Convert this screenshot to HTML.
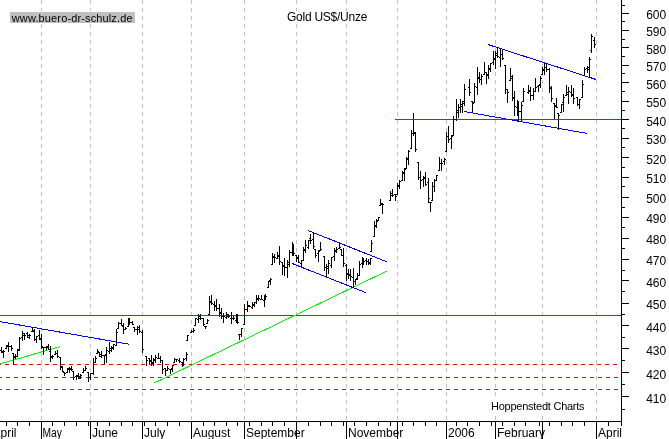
<!DOCTYPE html><html><head><meta charset="utf-8"><title>Gold US$/Unze</title>
<style>html,body{margin:0;padding:0;background:#fff;}body{width:669px;height:439px;overflow:hidden;position:relative;font-family:"Liberation Sans",sans-serif;}svg{position:absolute;left:0;top:0;display:block}text{font-family:"Liberation Sans",sans-serif;fill:#000}text{filter:grayscale(1)}</style></head><body>
<svg width="669" height="439" viewBox="0 0 669 439">
<rect x="0" y="0" width="669" height="439" fill="#fff"/>
<g stroke="#c0c0c0" stroke-width="1" stroke-dasharray="4 4" shape-rendering="crispEdges">
<line x1="41.5" y1="0" x2="41.5" y2="421"/>
<line x1="90.5" y1="0" x2="90.5" y2="421"/>
<line x1="142.5" y1="0" x2="142.5" y2="421"/>
<line x1="191.5" y1="0" x2="191.5" y2="421"/>
<line x1="244.5" y1="0" x2="244.5" y2="421"/>
<line x1="296.5" y1="0" x2="296.5" y2="421"/>
<line x1="346.5" y1="0" x2="346.5" y2="421"/>
<line x1="397.5" y1="0" x2="397.5" y2="421"/>
<line x1="446.5" y1="0" x2="446.5" y2="421"/>
<line x1="495.5" y1="0" x2="495.5" y2="421"/>
<line x1="542.5" y1="0" x2="542.5" y2="421"/>
<line x1="596.5" y1="0" x2="596.5" y2="421"/>
</g>
<g stroke="#ff0000" stroke-width="1" shape-rendering="crispEdges">
<line x1="-3" y1="364.5" x2="619" y2="364.5" stroke-dasharray="4 4"/>
<line x1="-2" y1="377.5" x2="619" y2="377.5" stroke-dasharray="4 4"/>
<line x1="-2" y1="389.5" x2="619" y2="389.5" stroke-dasharray="4 4"/>
<line x1="0" y1="315.5" x2="621" y2="315.5"/>
<line x1="395" y1="119.5" x2="621" y2="119.5"/>
</g>
<g stroke="#00ff00" stroke-width="1" shape-rendering="crispEdges">
<line x1="0" y1="364.0" x2="60" y2="346.6"/>
<line x1="153.5" y1="383.4" x2="386.7" y2="271.2"/>
</g>
<g stroke="#0000ff" stroke-width="1" shape-rendering="crispEdges">
<line x1="0" y1="321.6" x2="129.2" y2="344.2"/>
<line x1="308.3" y1="230.6" x2="386.7" y2="261.8"/>
<line x1="291.9" y1="263.4" x2="365.7" y2="292.6"/>
<line x1="487.9" y1="44.5" x2="596.1" y2="79.5"/>
<line x1="464.2" y1="111.5" x2="586.9" y2="133.4"/>
</g>
<g fill="#000" shape-rendering="crispEdges">
<rect x="1" y="347" width="1" height="6"/>
<rect x="0" y="350" width="1" height="1"/>
<rect x="2" y="351" width="1" height="1"/>
<rect x="3" y="350" width="1" height="8"/>
<rect x="2" y="352" width="1" height="1"/>
<rect x="4" y="351" width="1" height="1"/>
<rect x="6" y="345" width="1" height="4"/>
<rect x="5" y="348" width="1" height="1"/>
<rect x="7" y="345" width="1" height="1"/>
<rect x="8" y="342" width="1" height="10"/>
<rect x="7" y="346" width="1" height="1"/>
<rect x="9" y="346" width="1" height="1"/>
<rect x="11" y="345" width="1" height="6"/>
<rect x="10" y="346" width="1" height="1"/>
<rect x="12" y="348" width="1" height="1"/>
<rect x="13" y="353" width="1" height="12"/>
<rect x="12" y="353" width="1" height="1"/>
<rect x="14" y="356" width="1" height="1"/>
<rect x="15" y="354" width="1" height="5"/>
<rect x="14" y="357" width="1" height="1"/>
<rect x="16" y="356" width="1" height="1"/>
<rect x="17" y="349" width="1" height="8"/>
<rect x="16" y="356" width="1" height="1"/>
<rect x="18" y="349" width="1" height="1"/>
<rect x="19" y="337" width="1" height="14"/>
<rect x="18" y="350" width="1" height="1"/>
<rect x="20" y="338" width="1" height="1"/>
<rect x="22" y="331" width="1" height="10"/>
<rect x="21" y="337" width="1" height="1"/>
<rect x="23" y="335" width="1" height="1"/>
<rect x="24" y="333" width="1" height="7"/>
<rect x="23" y="333" width="1" height="1"/>
<rect x="25" y="335" width="1" height="1"/>
<rect x="27" y="332" width="1" height="6"/>
<rect x="26" y="333" width="1" height="1"/>
<rect x="28" y="337" width="1" height="1"/>
<rect x="29" y="334" width="1" height="5"/>
<rect x="28" y="335" width="1" height="1"/>
<rect x="30" y="335" width="1" height="1"/>
<rect x="32" y="328" width="1" height="4"/>
<rect x="31" y="331" width="1" height="1"/>
<rect x="33" y="331" width="1" height="1"/>
<rect x="34" y="329" width="1" height="12"/>
<rect x="33" y="330" width="1" height="1"/>
<rect x="35" y="339" width="1" height="1"/>
<rect x="36" y="336" width="1" height="7"/>
<rect x="35" y="339" width="1" height="1"/>
<rect x="37" y="336" width="1" height="1"/>
<rect x="39" y="330" width="1" height="10"/>
<rect x="38" y="335" width="1" height="1"/>
<rect x="40" y="338" width="1" height="1"/>
<rect x="41" y="334" width="1" height="15"/>
<rect x="40" y="339" width="1" height="1"/>
<rect x="42" y="346" width="1" height="1"/>
<rect x="43" y="347" width="1" height="8"/>
<rect x="42" y="347" width="1" height="1"/>
<rect x="44" y="347" width="1" height="1"/>
<rect x="46" y="346" width="1" height="4"/>
<rect x="45" y="347" width="1" height="1"/>
<rect x="47" y="346" width="1" height="1"/>
<rect x="48" y="344" width="1" height="6"/>
<rect x="47" y="347" width="1" height="1"/>
<rect x="49" y="349" width="1" height="1"/>
<rect x="50" y="346" width="1" height="16"/>
<rect x="49" y="351" width="1" height="1"/>
<rect x="51" y="356" width="1" height="1"/>
<rect x="52" y="355" width="1" height="4"/>
<rect x="51" y="357" width="1" height="1"/>
<rect x="53" y="356" width="1" height="1"/>
<rect x="55" y="351" width="1" height="4"/>
<rect x="54" y="354" width="1" height="1"/>
<rect x="56" y="353" width="1" height="1"/>
<rect x="57" y="350" width="1" height="8"/>
<rect x="56" y="353" width="1" height="1"/>
<rect x="58" y="356" width="1" height="1"/>
<rect x="60" y="357" width="1" height="13"/>
<rect x="59" y="357" width="1" height="1"/>
<rect x="61" y="366" width="1" height="1"/>
<rect x="62" y="366" width="1" height="6"/>
<rect x="61" y="367" width="1" height="1"/>
<rect x="63" y="371" width="1" height="1"/>
<rect x="64" y="372" width="1" height="4"/>
<rect x="63" y="372" width="1" height="1"/>
<rect x="65" y="373" width="1" height="1"/>
<rect x="67" y="368" width="1" height="5"/>
<rect x="66" y="372" width="1" height="1"/>
<rect x="68" y="369" width="1" height="1"/>
<rect x="69" y="367" width="1" height="6"/>
<rect x="68" y="368" width="1" height="1"/>
<rect x="70" y="369" width="1" height="1"/>
<rect x="71" y="366" width="1" height="5"/>
<rect x="70" y="368" width="1" height="1"/>
<rect x="72" y="369" width="1" height="1"/>
<rect x="73" y="371" width="1" height="9"/>
<rect x="72" y="371" width="1" height="1"/>
<rect x="74" y="377" width="1" height="1"/>
<rect x="76" y="375" width="1" height="5"/>
<rect x="75" y="376" width="1" height="1"/>
<rect x="77" y="375" width="1" height="1"/>
<rect x="78" y="373" width="1" height="6"/>
<rect x="77" y="376" width="1" height="1"/>
<rect x="79" y="376" width="1" height="1"/>
<rect x="80" y="374" width="1" height="5"/>
<rect x="79" y="378" width="1" height="1"/>
<rect x="81" y="375" width="1" height="1"/>
<rect x="83" y="368" width="1" height="5"/>
<rect x="82" y="372" width="1" height="1"/>
<rect x="84" y="370" width="1" height="1"/>
<rect x="85" y="366" width="1" height="5"/>
<rect x="84" y="370" width="1" height="1"/>
<rect x="86" y="368" width="1" height="1"/>
<rect x="88" y="372" width="1" height="10"/>
<rect x="87" y="372" width="1" height="1"/>
<rect x="89" y="377" width="1" height="1"/>
<rect x="90" y="373" width="1" height="7"/>
<rect x="89" y="377" width="1" height="1"/>
<rect x="91" y="373" width="1" height="1"/>
<rect x="93" y="358" width="1" height="17"/>
<rect x="92" y="373" width="1" height="1"/>
<rect x="94" y="362" width="1" height="1"/>
<rect x="95" y="356" width="1" height="7"/>
<rect x="94" y="362" width="1" height="1"/>
<rect x="96" y="358" width="1" height="1"/>
<rect x="97" y="349" width="1" height="5"/>
<rect x="96" y="353" width="1" height="1"/>
<rect x="98" y="351" width="1" height="1"/>
<rect x="99" y="352" width="1" height="5"/>
<rect x="98" y="352" width="1" height="1"/>
<rect x="100" y="354" width="1" height="1"/>
<rect x="101" y="351" width="1" height="7"/>
<rect x="100" y="356" width="1" height="1"/>
<rect x="102" y="355" width="1" height="1"/>
<rect x="104" y="355" width="1" height="9"/>
<rect x="103" y="355" width="1" height="1"/>
<rect x="105" y="355" width="1" height="1"/>
<rect x="106" y="347" width="1" height="16"/>
<rect x="105" y="354" width="1" height="1"/>
<rect x="107" y="350" width="1" height="1"/>
<rect x="109" y="342" width="1" height="12"/>
<rect x="108" y="351" width="1" height="1"/>
<rect x="110" y="348" width="1" height="1"/>
<rect x="111" y="346" width="1" height="6"/>
<rect x="110" y="350" width="1" height="1"/>
<rect x="112" y="348" width="1" height="1"/>
<rect x="113" y="344" width="1" height="6"/>
<rect x="112" y="347" width="1" height="1"/>
<rect x="114" y="344" width="1" height="1"/>
<rect x="116" y="329" width="1" height="17"/>
<rect x="115" y="345" width="1" height="1"/>
<rect x="117" y="332" width="1" height="1"/>
<rect x="118" y="322" width="1" height="7"/>
<rect x="117" y="328" width="1" height="1"/>
<rect x="119" y="323" width="1" height="1"/>
<rect x="121" y="319" width="1" height="7"/>
<rect x="120" y="323" width="1" height="1"/>
<rect x="122" y="325" width="1" height="1"/>
<rect x="123" y="323" width="1" height="11"/>
<rect x="122" y="326" width="1" height="1"/>
<rect x="124" y="329" width="1" height="1"/>
<rect x="125" y="327" width="1" height="3"/>
<rect x="124" y="329" width="1" height="1"/>
<rect x="126" y="328" width="1" height="1"/>
<rect x="128" y="318" width="1" height="9"/>
<rect x="127" y="326" width="1" height="1"/>
<rect x="129" y="321" width="1" height="1"/>
<rect x="129" y="318" width="1" height="7"/>
<rect x="128" y="320" width="1" height="1"/>
<rect x="130" y="322" width="1" height="1"/>
<rect x="132" y="321" width="1" height="4"/>
<rect x="131" y="322" width="1" height="1"/>
<rect x="133" y="324" width="1" height="1"/>
<rect x="134" y="327" width="1" height="5"/>
<rect x="133" y="327" width="1" height="1"/>
<rect x="135" y="329" width="1" height="1"/>
<rect x="137" y="326" width="1" height="9"/>
<rect x="136" y="329" width="1" height="1"/>
<rect x="138" y="329" width="1" height="1"/>
<rect x="139" y="325" width="1" height="8"/>
<rect x="138" y="327" width="1" height="1"/>
<rect x="140" y="331" width="1" height="1"/>
<rect x="142" y="330" width="1" height="23"/>
<rect x="141" y="332" width="1" height="1"/>
<rect x="143" y="349" width="1" height="1"/>
<rect x="146" y="356" width="1" height="10"/>
<rect x="145" y="356" width="1" height="1"/>
<rect x="147" y="360" width="1" height="1"/>
<rect x="149" y="358" width="1" height="6"/>
<rect x="148" y="358" width="1" height="1"/>
<rect x="150" y="360" width="1" height="1"/>
<rect x="151" y="355" width="1" height="11"/>
<rect x="150" y="361" width="1" height="1"/>
<rect x="152" y="362" width="1" height="1"/>
<rect x="153" y="358" width="1" height="8"/>
<rect x="152" y="363" width="1" height="1"/>
<rect x="154" y="360" width="1" height="1"/>
<rect x="155" y="355" width="1" height="8"/>
<rect x="154" y="359" width="1" height="1"/>
<rect x="156" y="357" width="1" height="1"/>
<rect x="158" y="353" width="1" height="6"/>
<rect x="157" y="358" width="1" height="1"/>
<rect x="159" y="358" width="1" height="1"/>
<rect x="160" y="356" width="1" height="7"/>
<rect x="159" y="358" width="1" height="1"/>
<rect x="161" y="360" width="1" height="1"/>
<rect x="162" y="360" width="1" height="14"/>
<rect x="161" y="360" width="1" height="1"/>
<rect x="163" y="369" width="1" height="1"/>
<rect x="165" y="368" width="1" height="8"/>
<rect x="164" y="368" width="1" height="1"/>
<rect x="166" y="370" width="1" height="1"/>
<rect x="167" y="366" width="1" height="5"/>
<rect x="166" y="370" width="1" height="1"/>
<rect x="168" y="368" width="1" height="1"/>
<rect x="170" y="369" width="1" height="5"/>
<rect x="169" y="369" width="1" height="1"/>
<rect x="171" y="369" width="1" height="1"/>
<rect x="172" y="365" width="1" height="7"/>
<rect x="171" y="368" width="1" height="1"/>
<rect x="173" y="365" width="1" height="1"/>
<rect x="174" y="358" width="1" height="5"/>
<rect x="173" y="362" width="1" height="1"/>
<rect x="175" y="359" width="1" height="1"/>
<rect x="176" y="359" width="1" height="3"/>
<rect x="175" y="359" width="1" height="1"/>
<rect x="177" y="359" width="1" height="1"/>
<rect x="179" y="358" width="1" height="5"/>
<rect x="178" y="360" width="1" height="1"/>
<rect x="180" y="361" width="1" height="1"/>
<rect x="182" y="362" width="1" height="5"/>
<rect x="181" y="362" width="1" height="1"/>
<rect x="183" y="363" width="1" height="1"/>
<rect x="183" y="358" width="1" height="8"/>
<rect x="182" y="364" width="1" height="1"/>
<rect x="184" y="359" width="1" height="1"/>
<rect x="186" y="352" width="1" height="9"/>
<rect x="185" y="358" width="1" height="1"/>
<rect x="187" y="354" width="1" height="1"/>
<rect x="187" y="335" width="1" height="6"/>
<rect x="186" y="340" width="1" height="1"/>
<rect x="188" y="335" width="1" height="1"/>
<rect x="191" y="330" width="1" height="3"/>
<rect x="190" y="332" width="1" height="1"/>
<rect x="192" y="331" width="1" height="1"/>
<rect x="193" y="328" width="1" height="5"/>
<rect x="192" y="331" width="1" height="1"/>
<rect x="194" y="330" width="1" height="1"/>
<rect x="195" y="318" width="1" height="8"/>
<rect x="194" y="325" width="1" height="1"/>
<rect x="196" y="318" width="1" height="1"/>
<rect x="198" y="314" width="1" height="9"/>
<rect x="197" y="319" width="1" height="1"/>
<rect x="199" y="316" width="1" height="1"/>
<rect x="200" y="314" width="1" height="6"/>
<rect x="199" y="318" width="1" height="1"/>
<rect x="201" y="318" width="1" height="1"/>
<rect x="203" y="318" width="1" height="8"/>
<rect x="202" y="318" width="1" height="1"/>
<rect x="204" y="324" width="1" height="1"/>
<rect x="205" y="326" width="1" height="3"/>
<rect x="204" y="326" width="1" height="1"/>
<rect x="206" y="326" width="1" height="1"/>
<rect x="207" y="319" width="1" height="5"/>
<rect x="206" y="323" width="1" height="1"/>
<rect x="208" y="320" width="1" height="1"/>
<rect x="209" y="296" width="1" height="19"/>
<rect x="208" y="314" width="1" height="1"/>
<rect x="210" y="301" width="1" height="1"/>
<rect x="211" y="295" width="1" height="10"/>
<rect x="210" y="302" width="1" height="1"/>
<rect x="212" y="303" width="1" height="1"/>
<rect x="214" y="301" width="1" height="10"/>
<rect x="213" y="304" width="1" height="1"/>
<rect x="215" y="305" width="1" height="1"/>
<rect x="216" y="299" width="1" height="12"/>
<rect x="215" y="306" width="1" height="1"/>
<rect x="217" y="308" width="1" height="1"/>
<rect x="219" y="304" width="1" height="13"/>
<rect x="218" y="308" width="1" height="1"/>
<rect x="220" y="312" width="1" height="1"/>
<rect x="221" y="308" width="1" height="11"/>
<rect x="220" y="313" width="1" height="1"/>
<rect x="222" y="316" width="1" height="1"/>
<rect x="223" y="313" width="1" height="10"/>
<rect x="222" y="316" width="1" height="1"/>
<rect x="224" y="316" width="1" height="1"/>
<rect x="226" y="312" width="1" height="7"/>
<rect x="225" y="317" width="1" height="1"/>
<rect x="227" y="316" width="1" height="1"/>
<rect x="228" y="314" width="1" height="4"/>
<rect x="227" y="314" width="1" height="1"/>
<rect x="229" y="316" width="1" height="1"/>
<rect x="231" y="312" width="1" height="12"/>
<rect x="230" y="318" width="1" height="1"/>
<rect x="232" y="318" width="1" height="1"/>
<rect x="233" y="316" width="1" height="4"/>
<rect x="232" y="318" width="1" height="1"/>
<rect x="234" y="318" width="1" height="1"/>
<rect x="236" y="314" width="1" height="9"/>
<rect x="235" y="320" width="1" height="1"/>
<rect x="237" y="318" width="1" height="1"/>
<rect x="237" y="314" width="1" height="10"/>
<rect x="236" y="319" width="1" height="1"/>
<rect x="238" y="322" width="1" height="1"/>
<rect x="239" y="334" width="1" height="6"/>
<rect x="238" y="334" width="1" height="1"/>
<rect x="240" y="334" width="1" height="1"/>
<rect x="241" y="328" width="1" height="9"/>
<rect x="240" y="334" width="1" height="1"/>
<rect x="242" y="328" width="1" height="1"/>
<rect x="244" y="304" width="1" height="21"/>
<rect x="243" y="324" width="1" height="1"/>
<rect x="245" y="309" width="1" height="1"/>
<rect x="247" y="301" width="1" height="11"/>
<rect x="246" y="309" width="1" height="1"/>
<rect x="248" y="306" width="1" height="1"/>
<rect x="249" y="305" width="1" height="2"/>
<rect x="248" y="305" width="1" height="1"/>
<rect x="250" y="306" width="1" height="1"/>
<rect x="252" y="302" width="1" height="7"/>
<rect x="251" y="307" width="1" height="1"/>
<rect x="253" y="305" width="1" height="1"/>
<rect x="254" y="302" width="1" height="5"/>
<rect x="253" y="304" width="1" height="1"/>
<rect x="255" y="302" width="1" height="1"/>
<rect x="256" y="295" width="1" height="9"/>
<rect x="255" y="302" width="1" height="1"/>
<rect x="257" y="299" width="1" height="1"/>
<rect x="258" y="295" width="1" height="6"/>
<rect x="257" y="298" width="1" height="1"/>
<rect x="259" y="298" width="1" height="1"/>
<rect x="261" y="295" width="1" height="5"/>
<rect x="260" y="299" width="1" height="1"/>
<rect x="262" y="299" width="1" height="1"/>
<rect x="264" y="295" width="1" height="12"/>
<rect x="263" y="300" width="1" height="1"/>
<rect x="265" y="297" width="1" height="1"/>
<rect x="265" y="294" width="1" height="6"/>
<rect x="264" y="298" width="1" height="1"/>
<rect x="266" y="296" width="1" height="1"/>
<rect x="268" y="281" width="1" height="7"/>
<rect x="267" y="287" width="1" height="1"/>
<rect x="269" y="281" width="1" height="1"/>
<rect x="270" y="278" width="1" height="7"/>
<rect x="269" y="280" width="1" height="1"/>
<rect x="271" y="279" width="1" height="1"/>
<rect x="272" y="253" width="1" height="12"/>
<rect x="271" y="264" width="1" height="1"/>
<rect x="273" y="257" width="1" height="1"/>
<rect x="274" y="254" width="1" height="9"/>
<rect x="273" y="256" width="1" height="1"/>
<rect x="275" y="257" width="1" height="1"/>
<rect x="277" y="252" width="1" height="7"/>
<rect x="276" y="258" width="1" height="1"/>
<rect x="278" y="256" width="1" height="1"/>
<rect x="279" y="246" width="1" height="19"/>
<rect x="278" y="255" width="1" height="1"/>
<rect x="280" y="261" width="1" height="1"/>
<rect x="282" y="262" width="1" height="13"/>
<rect x="281" y="262" width="1" height="1"/>
<rect x="283" y="266" width="1" height="1"/>
<rect x="284" y="258" width="1" height="18"/>
<rect x="283" y="265" width="1" height="1"/>
<rect x="285" y="267" width="1" height="1"/>
<rect x="287" y="260" width="1" height="18"/>
<rect x="286" y="267" width="1" height="1"/>
<rect x="288" y="264" width="1" height="1"/>
<rect x="289" y="250" width="1" height="17"/>
<rect x="288" y="262" width="1" height="1"/>
<rect x="290" y="252" width="1" height="1"/>
<rect x="292" y="242" width="1" height="14"/>
<rect x="291" y="252" width="1" height="1"/>
<rect x="293" y="249" width="1" height="1"/>
<rect x="293" y="244" width="1" height="12"/>
<rect x="292" y="249" width="1" height="1"/>
<rect x="294" y="253" width="1" height="1"/>
<rect x="296" y="255" width="1" height="7"/>
<rect x="295" y="255" width="1" height="1"/>
<rect x="297" y="258" width="1" height="1"/>
<rect x="298" y="255" width="1" height="8"/>
<rect x="297" y="257" width="1" height="1"/>
<rect x="299" y="262" width="1" height="1"/>
<rect x="301" y="260" width="1" height="7"/>
<rect x="300" y="263" width="1" height="1"/>
<rect x="302" y="260" width="1" height="1"/>
<rect x="303" y="247" width="1" height="14"/>
<rect x="302" y="260" width="1" height="1"/>
<rect x="304" y="250" width="1" height="1"/>
<rect x="305" y="240" width="1" height="13"/>
<rect x="304" y="249" width="1" height="1"/>
<rect x="306" y="245" width="1" height="1"/>
<rect x="308" y="240" width="1" height="9"/>
<rect x="307" y="247" width="1" height="1"/>
<rect x="309" y="240" width="1" height="1"/>
<rect x="310" y="234" width="1" height="10"/>
<rect x="309" y="238" width="1" height="1"/>
<rect x="311" y="240" width="1" height="1"/>
<rect x="313" y="232" width="1" height="17"/>
<rect x="312" y="239" width="1" height="1"/>
<rect x="314" y="246" width="1" height="1"/>
<rect x="315" y="249" width="1" height="9"/>
<rect x="314" y="249" width="1" height="1"/>
<rect x="316" y="255" width="1" height="1"/>
<rect x="318" y="250" width="1" height="12"/>
<rect x="317" y="253" width="1" height="1"/>
<rect x="319" y="251" width="1" height="1"/>
<rect x="320" y="242" width="1" height="9"/>
<rect x="319" y="250" width="1" height="1"/>
<rect x="321" y="249" width="1" height="1"/>
<rect x="324" y="256" width="1" height="15"/>
<rect x="323" y="256" width="1" height="1"/>
<rect x="325" y="267" width="1" height="1"/>
<rect x="326" y="264" width="1" height="13"/>
<rect x="325" y="267" width="1" height="1"/>
<rect x="327" y="268" width="1" height="1"/>
<rect x="328" y="260" width="1" height="14"/>
<rect x="327" y="266" width="1" height="1"/>
<rect x="329" y="263" width="1" height="1"/>
<rect x="331" y="257" width="1" height="11"/>
<rect x="330" y="265" width="1" height="1"/>
<rect x="332" y="257" width="1" height="1"/>
<rect x="334" y="248" width="1" height="13"/>
<rect x="333" y="256" width="1" height="1"/>
<rect x="335" y="250" width="1" height="1"/>
<rect x="336" y="247" width="1" height="6"/>
<rect x="335" y="251" width="1" height="1"/>
<rect x="337" y="249" width="1" height="1"/>
<rect x="339" y="243" width="1" height="6"/>
<rect x="338" y="248" width="1" height="1"/>
<rect x="340" y="247" width="1" height="1"/>
<rect x="341" y="249" width="1" height="7"/>
<rect x="340" y="249" width="1" height="1"/>
<rect x="342" y="255" width="1" height="1"/>
<rect x="343" y="248" width="1" height="19"/>
<rect x="342" y="255" width="1" height="1"/>
<rect x="344" y="263" width="1" height="1"/>
<rect x="346" y="264" width="1" height="17"/>
<rect x="345" y="265" width="1" height="1"/>
<rect x="347" y="273" width="1" height="1"/>
<rect x="348" y="269" width="1" height="10"/>
<rect x="347" y="274" width="1" height="1"/>
<rect x="349" y="274" width="1" height="1"/>
<rect x="350" y="269" width="1" height="12"/>
<rect x="349" y="275" width="1" height="1"/>
<rect x="351" y="276" width="1" height="1"/>
<rect x="353" y="268" width="1" height="20"/>
<rect x="352" y="277" width="1" height="1"/>
<rect x="354" y="281" width="1" height="1"/>
<rect x="355" y="279" width="1" height="6"/>
<rect x="354" y="281" width="1" height="1"/>
<rect x="356" y="279" width="1" height="1"/>
<rect x="357" y="273" width="1" height="7"/>
<rect x="356" y="278" width="1" height="1"/>
<rect x="358" y="275" width="1" height="1"/>
<rect x="359" y="261" width="1" height="15"/>
<rect x="358" y="275" width="1" height="1"/>
<rect x="360" y="264" width="1" height="1"/>
<rect x="362" y="257" width="1" height="11"/>
<rect x="361" y="263" width="1" height="1"/>
<rect x="363" y="260" width="1" height="1"/>
<rect x="363" y="258" width="1" height="7"/>
<rect x="362" y="259" width="1" height="1"/>
<rect x="364" y="261" width="1" height="1"/>
<rect x="366" y="258" width="1" height="7"/>
<rect x="365" y="260" width="1" height="1"/>
<rect x="367" y="261" width="1" height="1"/>
<rect x="368" y="259" width="1" height="6"/>
<rect x="367" y="261" width="1" height="1"/>
<rect x="369" y="262" width="1" height="1"/>
<rect x="370" y="258" width="1" height="7"/>
<rect x="369" y="263" width="1" height="1"/>
<rect x="371" y="258" width="1" height="1"/>
<rect x="371" y="240" width="1" height="12"/>
<rect x="370" y="251" width="1" height="1"/>
<rect x="372" y="243" width="1" height="1"/>
<rect x="374" y="221" width="1" height="16"/>
<rect x="373" y="236" width="1" height="1"/>
<rect x="375" y="225" width="1" height="1"/>
<rect x="376" y="219" width="1" height="9"/>
<rect x="375" y="226" width="1" height="1"/>
<rect x="377" y="221" width="1" height="1"/>
<rect x="378" y="217" width="1" height="4"/>
<rect x="377" y="220" width="1" height="1"/>
<rect x="379" y="217" width="1" height="1"/>
<rect x="380" y="199" width="1" height="7"/>
<rect x="379" y="205" width="1" height="1"/>
<rect x="381" y="204" width="1" height="1"/>
<rect x="382" y="203" width="1" height="11"/>
<rect x="381" y="203" width="1" height="1"/>
<rect x="383" y="204" width="1" height="1"/>
<rect x="390" y="191" width="1" height="10"/>
<rect x="389" y="200" width="1" height="1"/>
<rect x="391" y="193" width="1" height="1"/>
<rect x="392" y="189" width="1" height="8"/>
<rect x="391" y="195" width="1" height="1"/>
<rect x="393" y="195" width="1" height="1"/>
<rect x="395" y="194" width="1" height="7"/>
<rect x="394" y="194" width="1" height="1"/>
<rect x="396" y="196" width="1" height="1"/>
<rect x="397" y="183" width="1" height="12"/>
<rect x="396" y="194" width="1" height="1"/>
<rect x="398" y="186" width="1" height="1"/>
<rect x="399" y="180" width="1" height="9"/>
<rect x="398" y="185" width="1" height="1"/>
<rect x="400" y="181" width="1" height="1"/>
<rect x="402" y="171" width="1" height="10"/>
<rect x="401" y="180" width="1" height="1"/>
<rect x="403" y="173" width="1" height="1"/>
<rect x="404" y="168" width="1" height="13"/>
<rect x="403" y="172" width="1" height="1"/>
<rect x="405" y="169" width="1" height="1"/>
<rect x="406" y="157" width="1" height="12"/>
<rect x="405" y="168" width="1" height="1"/>
<rect x="407" y="159" width="1" height="1"/>
<rect x="408" y="150" width="1" height="15"/>
<rect x="407" y="158" width="1" height="1"/>
<rect x="409" y="151" width="1" height="1"/>
<rect x="411" y="130" width="1" height="19"/>
<rect x="410" y="148" width="1" height="1"/>
<rect x="412" y="133" width="1" height="1"/>
<rect x="413" y="113" width="1" height="23"/>
<rect x="412" y="133" width="1" height="1"/>
<rect x="414" y="133" width="1" height="1"/>
<rect x="415" y="132" width="1" height="20"/>
<rect x="414" y="132" width="1" height="1"/>
<rect x="416" y="149" width="1" height="1"/>
<rect x="418" y="162" width="1" height="18"/>
<rect x="417" y="162" width="1" height="1"/>
<rect x="419" y="177" width="1" height="1"/>
<rect x="420" y="171" width="1" height="18"/>
<rect x="419" y="177" width="1" height="1"/>
<rect x="421" y="180" width="1" height="1"/>
<rect x="423" y="176" width="1" height="11"/>
<rect x="422" y="179" width="1" height="1"/>
<rect x="424" y="178" width="1" height="1"/>
<rect x="425" y="172" width="1" height="14"/>
<rect x="424" y="177" width="1" height="1"/>
<rect x="426" y="184" width="1" height="1"/>
<rect x="428" y="178" width="1" height="25"/>
<rect x="427" y="182" width="1" height="1"/>
<rect x="429" y="198" width="1" height="1"/>
<rect x="430" y="202" width="1" height="10"/>
<rect x="429" y="202" width="1" height="1"/>
<rect x="431" y="202" width="1" height="1"/>
<rect x="432" y="182" width="1" height="19"/>
<rect x="431" y="200" width="1" height="1"/>
<rect x="433" y="186" width="1" height="1"/>
<rect x="434" y="179" width="1" height="13"/>
<rect x="433" y="186" width="1" height="1"/>
<rect x="435" y="180" width="1" height="1"/>
<rect x="436" y="175" width="1" height="6"/>
<rect x="435" y="180" width="1" height="1"/>
<rect x="437" y="175" width="1" height="1"/>
<rect x="439" y="157" width="1" height="14"/>
<rect x="438" y="170" width="1" height="1"/>
<rect x="440" y="163" width="1" height="1"/>
<rect x="441" y="159" width="1" height="12"/>
<rect x="440" y="163" width="1" height="1"/>
<rect x="442" y="163" width="1" height="1"/>
<rect x="444" y="158" width="1" height="7"/>
<rect x="443" y="161" width="1" height="1"/>
<rect x="445" y="159" width="1" height="1"/>
<rect x="446" y="132" width="1" height="20"/>
<rect x="445" y="151" width="1" height="1"/>
<rect x="447" y="136" width="1" height="1"/>
<rect x="448" y="126" width="1" height="17"/>
<rect x="447" y="136" width="1" height="1"/>
<rect x="449" y="139" width="1" height="1"/>
<rect x="451" y="135" width="1" height="14"/>
<rect x="450" y="138" width="1" height="1"/>
<rect x="452" y="136" width="1" height="1"/>
<rect x="453" y="116" width="1" height="20"/>
<rect x="452" y="135" width="1" height="1"/>
<rect x="454" y="119" width="1" height="1"/>
<rect x="456" y="99" width="1" height="22"/>
<rect x="455" y="119" width="1" height="1"/>
<rect x="457" y="110" width="1" height="1"/>
<rect x="458" y="104" width="1" height="14"/>
<rect x="457" y="112" width="1" height="1"/>
<rect x="459" y="107" width="1" height="1"/>
<rect x="460" y="99" width="1" height="14"/>
<rect x="459" y="107" width="1" height="1"/>
<rect x="461" y="106" width="1" height="1"/>
<rect x="462" y="101" width="1" height="12"/>
<rect x="461" y="104" width="1" height="1"/>
<rect x="463" y="103" width="1" height="1"/>
<rect x="464" y="84" width="1" height="22"/>
<rect x="463" y="101" width="1" height="1"/>
<rect x="465" y="89" width="1" height="1"/>
<rect x="469" y="79" width="1" height="17"/>
<rect x="468" y="87" width="1" height="1"/>
<rect x="470" y="92" width="1" height="1"/>
<rect x="472" y="101" width="1" height="12"/>
<rect x="471" y="101" width="1" height="1"/>
<rect x="473" y="103" width="1" height="1"/>
<rect x="474" y="83" width="1" height="20"/>
<rect x="473" y="102" width="1" height="1"/>
<rect x="475" y="86" width="1" height="1"/>
<rect x="477" y="67" width="1" height="28"/>
<rect x="476" y="87" width="1" height="1"/>
<rect x="478" y="77" width="1" height="1"/>
<rect x="479" y="72" width="1" height="11"/>
<rect x="478" y="78" width="1" height="1"/>
<rect x="480" y="79" width="1" height="1"/>
<rect x="481" y="74" width="1" height="11"/>
<rect x="480" y="79" width="1" height="1"/>
<rect x="482" y="76" width="1" height="1"/>
<rect x="484" y="62" width="1" height="13"/>
<rect x="483" y="74" width="1" height="1"/>
<rect x="485" y="72" width="1" height="1"/>
<rect x="486" y="72" width="1" height="12"/>
<rect x="485" y="72" width="1" height="1"/>
<rect x="487" y="74" width="1" height="1"/>
<rect x="488" y="65" width="1" height="14"/>
<rect x="487" y="75" width="1" height="1"/>
<rect x="489" y="69" width="1" height="1"/>
<rect x="490" y="63" width="1" height="9"/>
<rect x="489" y="68" width="1" height="1"/>
<rect x="491" y="63" width="1" height="1"/>
<rect x="493" y="51" width="1" height="14"/>
<rect x="492" y="62" width="1" height="1"/>
<rect x="494" y="58" width="1" height="1"/>
<rect x="495" y="51" width="1" height="18"/>
<rect x="494" y="59" width="1" height="1"/>
<rect x="496" y="55" width="1" height="1"/>
<rect x="497" y="48" width="1" height="10"/>
<rect x="496" y="53" width="1" height="1"/>
<rect x="498" y="56" width="1" height="1"/>
<rect x="500" y="49" width="1" height="18"/>
<rect x="499" y="57" width="1" height="1"/>
<rect x="501" y="54" width="1" height="1"/>
<rect x="502" y="50" width="1" height="10"/>
<rect x="501" y="54" width="1" height="1"/>
<rect x="503" y="58" width="1" height="1"/>
<rect x="505" y="65" width="1" height="29"/>
<rect x="504" y="65" width="1" height="1"/>
<rect x="506" y="89" width="1" height="1"/>
<rect x="507" y="89" width="1" height="14"/>
<rect x="506" y="89" width="1" height="1"/>
<rect x="508" y="92" width="1" height="1"/>
<rect x="510" y="68" width="1" height="13"/>
<rect x="509" y="80" width="1" height="1"/>
<rect x="511" y="78" width="1" height="1"/>
<rect x="512" y="75" width="1" height="26"/>
<rect x="511" y="76" width="1" height="1"/>
<rect x="513" y="97" width="1" height="1"/>
<rect x="514" y="91" width="1" height="25"/>
<rect x="513" y="98" width="1" height="1"/>
<rect x="515" y="106" width="1" height="1"/>
<rect x="517" y="100" width="1" height="16"/>
<rect x="516" y="107" width="1" height="1"/>
<rect x="518" y="110" width="1" height="1"/>
<rect x="518" y="101" width="1" height="20"/>
<rect x="517" y="108" width="1" height="1"/>
<rect x="519" y="111" width="1" height="1"/>
<rect x="521" y="102" width="1" height="19"/>
<rect x="520" y="111" width="1" height="1"/>
<rect x="522" y="105" width="1" height="1"/>
<rect x="523" y="88" width="1" height="14"/>
<rect x="522" y="101" width="1" height="1"/>
<rect x="524" y="91" width="1" height="1"/>
<rect x="528" y="85" width="1" height="9"/>
<rect x="527" y="92" width="1" height="1"/>
<rect x="529" y="91" width="1" height="1"/>
<rect x="530" y="87" width="1" height="14"/>
<rect x="529" y="90" width="1" height="1"/>
<rect x="531" y="95" width="1" height="1"/>
<rect x="533" y="88" width="1" height="12"/>
<rect x="532" y="95" width="1" height="1"/>
<rect x="534" y="91" width="1" height="1"/>
<rect x="535" y="78" width="1" height="14"/>
<rect x="534" y="91" width="1" height="1"/>
<rect x="536" y="87" width="1" height="1"/>
<rect x="538" y="85" width="1" height="7"/>
<rect x="537" y="86" width="1" height="1"/>
<rect x="539" y="85" width="1" height="1"/>
<rect x="540" y="76" width="1" height="12"/>
<rect x="539" y="84" width="1" height="1"/>
<rect x="541" y="78" width="1" height="1"/>
<rect x="542" y="67" width="1" height="8"/>
<rect x="541" y="74" width="1" height="1"/>
<rect x="543" y="69" width="1" height="1"/>
<rect x="544" y="63" width="1" height="12"/>
<rect x="543" y="70" width="1" height="1"/>
<rect x="545" y="67" width="1" height="1"/>
<rect x="546" y="64" width="1" height="8"/>
<rect x="545" y="67" width="1" height="1"/>
<rect x="547" y="69" width="1" height="1"/>
<rect x="549" y="68" width="1" height="25"/>
<rect x="548" y="69" width="1" height="1"/>
<rect x="550" y="88" width="1" height="1"/>
<rect x="551" y="86" width="1" height="16"/>
<rect x="550" y="87" width="1" height="1"/>
<rect x="552" y="98" width="1" height="1"/>
<rect x="554" y="103" width="1" height="16"/>
<rect x="553" y="103" width="1" height="1"/>
<rect x="555" y="106" width="1" height="1"/>
<rect x="556" y="98" width="1" height="10"/>
<rect x="555" y="105" width="1" height="1"/>
<rect x="557" y="107" width="1" height="1"/>
<rect x="558" y="113" width="1" height="17"/>
<rect x="557" y="113" width="1" height="1"/>
<rect x="559" y="115" width="1" height="1"/>
<rect x="561" y="104" width="1" height="9"/>
<rect x="560" y="112" width="1" height="1"/>
<rect x="562" y="104" width="1" height="1"/>
<rect x="563" y="94" width="1" height="18"/>
<rect x="562" y="102" width="1" height="1"/>
<rect x="564" y="97" width="1" height="1"/>
<rect x="566" y="85" width="1" height="11"/>
<rect x="565" y="95" width="1" height="1"/>
<rect x="567" y="94" width="1" height="1"/>
<rect x="568" y="87" width="1" height="17"/>
<rect x="567" y="92" width="1" height="1"/>
<rect x="569" y="91" width="1" height="1"/>
<rect x="571" y="85" width="1" height="12"/>
<rect x="570" y="92" width="1" height="1"/>
<rect x="572" y="94" width="1" height="1"/>
<rect x="573" y="88" width="1" height="16"/>
<rect x="572" y="95" width="1" height="1"/>
<rect x="574" y="98" width="1" height="1"/>
<rect x="577" y="97" width="1" height="9"/>
<rect x="576" y="97" width="1" height="1"/>
<rect x="578" y="104" width="1" height="1"/>
<rect x="579" y="99" width="1" height="10"/>
<rect x="578" y="104" width="1" height="1"/>
<rect x="580" y="99" width="1" height="1"/>
<rect x="582" y="80" width="1" height="18"/>
<rect x="581" y="97" width="1" height="1"/>
<rect x="583" y="84" width="1" height="1"/>
<rect x="584" y="67" width="1" height="9"/>
<rect x="583" y="75" width="1" height="1"/>
<rect x="585" y="69" width="1" height="1"/>
<rect x="587" y="66" width="1" height="7"/>
<rect x="586" y="68" width="1" height="1"/>
<rect x="588" y="67" width="1" height="1"/>
<rect x="589" y="57" width="1" height="21"/>
<rect x="588" y="69" width="1" height="1"/>
<rect x="590" y="59" width="1" height="1"/>
<rect x="591" y="34" width="1" height="19"/>
<rect x="590" y="50" width="1" height="1"/>
<rect x="592" y="36" width="1" height="1"/>
<rect x="594" y="37" width="1" height="11"/>
<rect x="593" y="40" width="1" height="1"/>
<rect x="595" y="44" width="1" height="1"/>
</g>
<g fill="#000" shape-rendering="crispEdges">
<rect x="621" y="0" width="1" height="426"/>
<rect x="0" y="421" width="622" height="1"/>
<rect x="622" y="409" width="3" height="1"/>
<rect x="622" y="396" width="7" height="1"/>
<rect x="622" y="384" width="3" height="1"/>
<rect x="622" y="372" width="7" height="1"/>
<rect x="622" y="360" width="3" height="1"/>
<rect x="622" y="348" width="7" height="1"/>
<rect x="622" y="337" width="3" height="1"/>
<rect x="622" y="325" width="7" height="1"/>
<rect x="622" y="314" width="3" height="1"/>
<rect x="622" y="303" width="7" height="1"/>
<rect x="622" y="291" width="3" height="1"/>
<rect x="622" y="280" width="7" height="1"/>
<rect x="622" y="270" width="3" height="1"/>
<rect x="622" y="259" width="7" height="1"/>
<rect x="622" y="248" width="3" height="1"/>
<rect x="622" y="238" width="7" height="1"/>
<rect x="622" y="227" width="3" height="1"/>
<rect x="622" y="217" width="7" height="1"/>
<rect x="622" y="207" width="3" height="1"/>
<rect x="622" y="197" width="7" height="1"/>
<rect x="622" y="186" width="3" height="1"/>
<rect x="622" y="177" width="7" height="1"/>
<rect x="622" y="167" width="3" height="1"/>
<rect x="622" y="157" width="7" height="1"/>
<rect x="622" y="147" width="3" height="1"/>
<rect x="622" y="138" width="7" height="1"/>
<rect x="622" y="128" width="3" height="1"/>
<rect x="622" y="119" width="7" height="1"/>
<rect x="622" y="110" width="3" height="1"/>
<rect x="622" y="101" width="7" height="1"/>
<rect x="622" y="91" width="3" height="1"/>
<rect x="622" y="82" width="7" height="1"/>
<rect x="622" y="73" width="3" height="1"/>
<rect x="622" y="65" width="7" height="1"/>
<rect x="622" y="56" width="3" height="1"/>
<rect x="622" y="47" width="7" height="1"/>
<rect x="622" y="39" width="3" height="1"/>
<rect x="622" y="30" width="7" height="1"/>
<rect x="622" y="21" width="3" height="1"/>
<rect x="622" y="13" width="7" height="1"/>
<rect x="622" y="5" width="3" height="1"/>
<rect x="6" y="422" width="1" height="4"/>
<rect x="17" y="422" width="1" height="4"/>
<rect x="29" y="422" width="1" height="4"/>
<rect x="52" y="422" width="1" height="4"/>
<rect x="64" y="422" width="1" height="4"/>
<rect x="76" y="422" width="1" height="4"/>
<rect x="88" y="422" width="1" height="4"/>
<rect x="97" y="422" width="1" height="4"/>
<rect x="109" y="422" width="1" height="4"/>
<rect x="121" y="422" width="1" height="4"/>
<rect x="132" y="422" width="1" height="4"/>
<rect x="144" y="422" width="1" height="4"/>
<rect x="155" y="422" width="1" height="4"/>
<rect x="167" y="422" width="1" height="4"/>
<rect x="179" y="422" width="1" height="4"/>
<rect x="203" y="422" width="1" height="4"/>
<rect x="214" y="422" width="1" height="4"/>
<rect x="226" y="422" width="1" height="4"/>
<rect x="237" y="422" width="1" height="4"/>
<rect x="249" y="422" width="1" height="4"/>
<rect x="261" y="422" width="1" height="4"/>
<rect x="272" y="422" width="1" height="4"/>
<rect x="284" y="422" width="1" height="4"/>
<rect x="308" y="422" width="1" height="4"/>
<rect x="320" y="422" width="1" height="4"/>
<rect x="331" y="422" width="1" height="4"/>
<rect x="343" y="422" width="1" height="4"/>
<rect x="354" y="422" width="1" height="4"/>
<rect x="366" y="422" width="1" height="4"/>
<rect x="378" y="422" width="1" height="4"/>
<rect x="390" y="422" width="1" height="4"/>
<rect x="402" y="422" width="1" height="4"/>
<rect x="413" y="422" width="1" height="4"/>
<rect x="425" y="422" width="1" height="4"/>
<rect x="436" y="422" width="1" height="4"/>
<rect x="456" y="422" width="1" height="4"/>
<rect x="467" y="422" width="1" height="4"/>
<rect x="479" y="422" width="1" height="4"/>
<rect x="491" y="422" width="1" height="4"/>
<rect x="502" y="422" width="1" height="4"/>
<rect x="514" y="422" width="1" height="4"/>
<rect x="525" y="422" width="1" height="4"/>
<rect x="539" y="422" width="1" height="4"/>
<rect x="549" y="422" width="1" height="4"/>
<rect x="561" y="422" width="1" height="4"/>
<rect x="572" y="422" width="1" height="4"/>
<rect x="584" y="422" width="1" height="4"/>
<rect x="608" y="422" width="1" height="4"/>
<rect x="41" y="422" width="1" height="17"/>
<rect x="90" y="422" width="1" height="17"/>
<rect x="142" y="422" width="1" height="17"/>
<rect x="191" y="422" width="1" height="17"/>
<rect x="244" y="422" width="1" height="17"/>
<rect x="296" y="422" width="1" height="17"/>
<rect x="346" y="422" width="1" height="17"/>
<rect x="397" y="422" width="1" height="17"/>
<rect x="446" y="422" width="1" height="17"/>
<rect x="495" y="422" width="1" height="17"/>
<rect x="542" y="422" width="1" height="17"/>
<rect x="596" y="422" width="1" height="17"/>
</g>
<g font-size="12px">
<text x="646.2" y="403">410</text>
<text x="646.2" y="379">420</text>
<text x="646.2" y="355">430</text>
<text x="646.2" y="332">440</text>
<text x="646.2" y="309">450</text>
<text x="646.2" y="287">460</text>
<text x="646.2" y="265">470</text>
<text x="646.2" y="244">480</text>
<text x="646.2" y="223">490</text>
<text x="646.2" y="203">500</text>
<text x="646.2" y="183">510</text>
<text x="646.2" y="164">520</text>
<text x="646.2" y="144">530</text>
<text x="646.2" y="126">540</text>
<text x="646.2" y="107">550</text>
<text x="646.2" y="89">560</text>
<text x="646.2" y="71">570</text>
<text x="646.2" y="54">580</text>
<text x="646.2" y="36">590</text>
<text x="646.2" y="19">600</text>
</g>
<g font-size="12px">
<text x="-7.5" y="437">April</text>
<text x="42.6" y="437" textLength="19.3" lengthAdjust="spacingAndGlyphs">May</text>
<text x="92" y="437">June</text>
<text x="144" y="437">July</text>
<text x="193" y="437">August</text>
<text x="246" y="437">September</text>
<text x="348" y="437">November</text>
<text x="448" y="437">2006</text>
<text x="497" y="437">February</text>
<text x="598" y="437">April</text>
</g>
<rect x="10" y="11" width="125" height="13" fill="#fff"/>
<rect x="10" y="12" width="125" height="11" fill="#c0c0c0"/>
<text x="11.8" y="22" font-size="11px" letter-spacing="0.13px">www.buero-dr-schulz.de</text>
<rect x="286" y="11" width="83" height="12" fill="#fff"/>
<text x="287" y="21" font-size="12px" letter-spacing="-0.25px">Gold US$/Unze</text>
<rect x="490" y="399" width="96" height="13" fill="#fff"/>
<text x="491" y="410" font-size="11px" letter-spacing="-0.25px">Hoppenstedt Charts</text>
</svg></body></html>
